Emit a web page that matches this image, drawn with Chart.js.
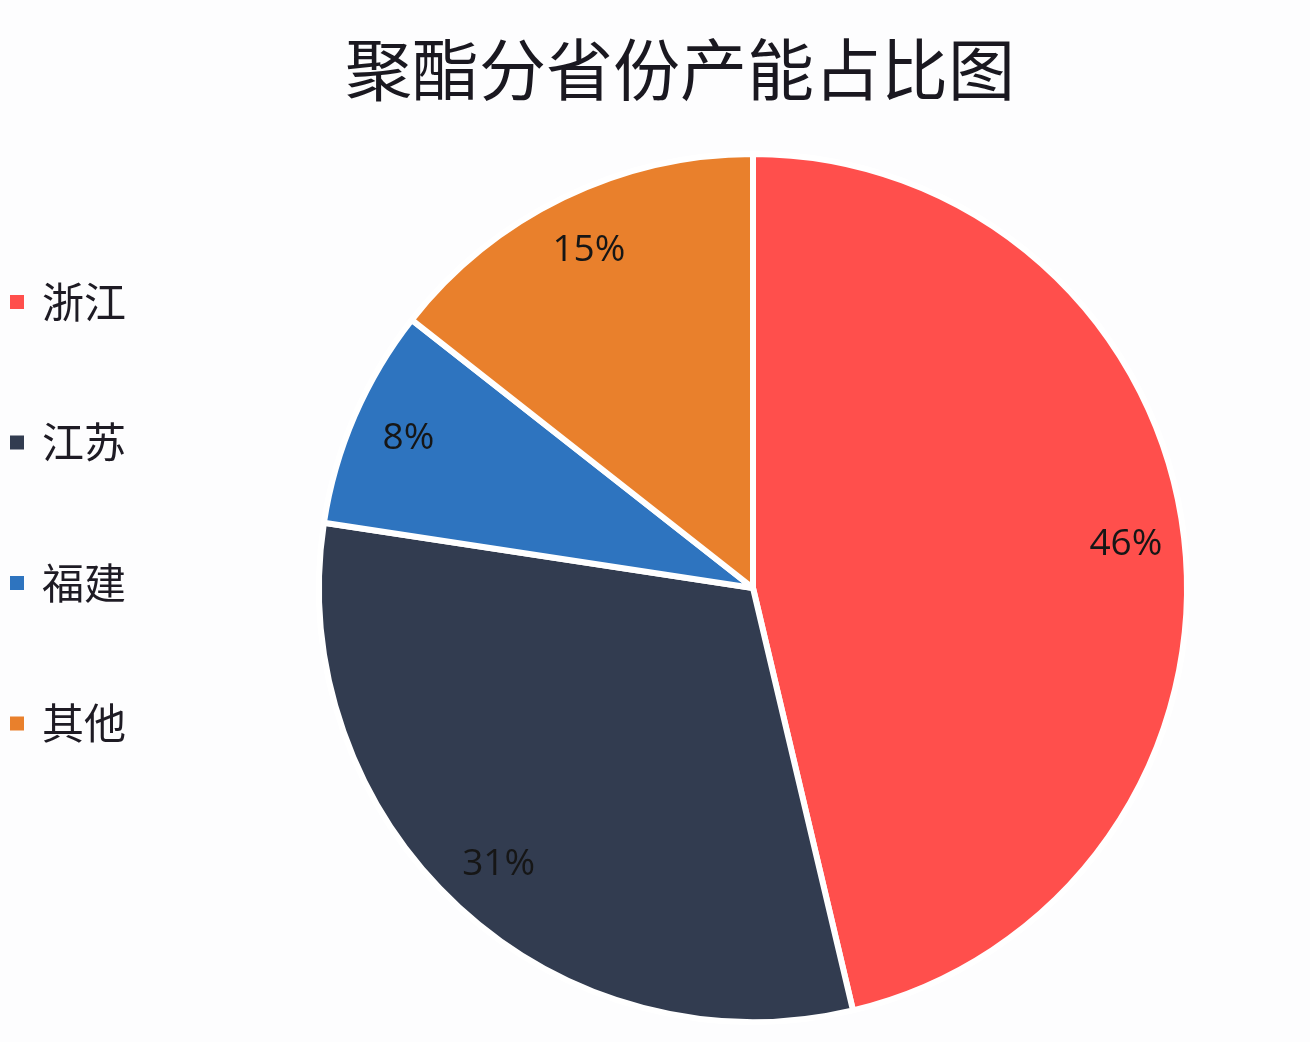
<!DOCTYPE html>
<html>
<head>
<meta charset="utf-8">
<script src="https://cdn.jsdelivr.net/npm/chart.js@4.4.0/dist/chart.umd.min.js"></script>
<style>
    html, body { margin: 0; padding: 0; background: #fdfdfe; }
    #wrap { width: 1310px; height: 1042px; position: relative; }
</style>
</head>
<body>
<div id="wrap"><canvas id="pie-chart"></canvas></div>
<script>
var titleText = '聚酯分省份产能占比图';
var provinces = ['浙江', '江苏', '福建', '其他'];
// slice shares as measured on the picture
var shares = [46.3, 31.1, 8.2, 14.4];
// percentage labels as printed on the picture
var shareLabels = ['46%', '31%', '8%', '15%'];
var sliceColors = ['#ff4f4c', '#323c50', '#2e74bf', '#e9802c'];

// percentage labels inside the slices, legend and title
var decorPlugin = {
    id: 'decor',
    afterDatasetsDraw: function (chart) {
        var ctx = chart.ctx;
        var meta = chart.getDatasetMeta(0);

        ctx.save();
        ctx.font = '37px "Open Sans", "Liberation Sans", sans-serif';
        ctx.fillStyle = '#161616';
        ctx.textAlign = 'center';
        ctx.textBaseline = 'middle';
        meta.data.forEach(function (arc, i) {
            var p = arc.getProps(['x', 'y', 'startAngle', 'endAngle', 'outerRadius'], true);
            var mid = (p.startAngle + p.endAngle) / 2;
            var r = p.outerRadius * 0.865;
            ctx.fillText(shareLabels[i], p.x + Math.cos(mid) * r, p.y + Math.sin(mid) * r);
        });

        // legend
        ctx.textAlign = 'left';
        ctx.font = '42px "Noto Sans CJK SC", sans-serif';
        provinces.forEach(function (name, i) {
            var y = 302 + i * 140.5;
            ctx.fillStyle = sliceColors[i];
            ctx.fillRect(10, y - 7, 14, 14);
            ctx.fillStyle = '#1e1b24';
            ctx.fillText(name, 42, y);
        });

        // title
        ctx.textAlign = 'center';
        ctx.font = '67px "Noto Sans CJK SC", sans-serif';
        ctx.fillStyle = '#1a1820';
        ctx.fillText(titleText, 680, 70);
        ctx.restore();
    }
};

var ctx = document.getElementById('pie-chart').getContext('2d');
var pieChart = new Chart(ctx, {
    type: 'pie',
    data: {
        labels: provinces,
        datasets: [
            {
                data: shares,
                backgroundColor: sliceColors,
                borderColor: '#ffffff',
                borderWidth: 6
            }
        ]
    },
    options: {
        responsive: true,
        maintainAspectRatio: false,
        animation: false,
        layout: {
            padding: { top: 151, bottom: 17, left: 316, right: 120 }
        },
        plugins: {
            legend: { display: false },
            title: { display: false },
            tooltip: { enabled: false }
        }
    },
    plugins: [decorPlugin]
});
</script>
</body>
</html>
